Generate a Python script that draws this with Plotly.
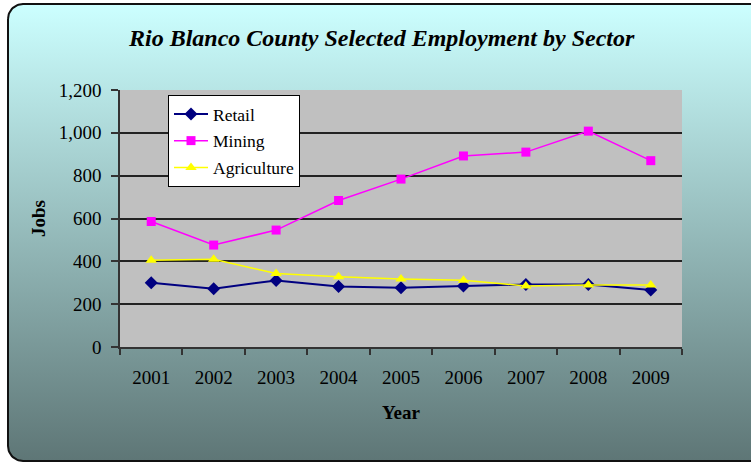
import numpy as np
import plotly.graph_objects as go

# ---- data -------------------------------------------------------------
years = ["2001", "2002", "2003", "2004", "2005", "2006", "2007", "2008", "2009"]
retail = [300, 272, 311, 283, 277, 285, 292, 292, 266]
mining = [586, 476, 546, 684, 784, 892, 910, 1008, 870]
agriculture = [405, 410, 343, 328, 317, 312, 285, 289, 289]

y_ticks = [0, 200, 400, 600, 800, 1000, 1200]

# ---- layout constants (pixels) ------------------------------------------
W, H = 751, 464
PLOT_L, PLOT_R, PLOT_T, PLOT_B = 120, 682, 90, 347
FRAME_L, FRAME_T, FRAME_R, FRAME_B, RADIUS = 8, 4, 775, 461, 15

FONT = "Liberation Serif, Times New Roman, serif"


def rounded_rect(x0, y0, x1, y1, r, n=16):
    """Closed outline of a rounded rectangle in pixel space (y grows downward)."""
    xs, ys = [], []
    corners = [
        (x0 + r, y0 + r, np.pi, 1.5 * np.pi),        # top-left
        (x1 - r, y0 + r, 1.5 * np.pi, 2 * np.pi),    # top-right
        (x1 - r, y1 - r, 0, 0.5 * np.pi),            # bottom-right
        (x0 + r, y1 - r, 0.5 * np.pi, np.pi),        # bottom-left
    ]
    for cx, cy, a0, a1 in corners:
        t = np.linspace(a0, a1, n)
        xs.extend(cx + r * np.cos(t))
        ys.extend(cy + r * np.sin(t))
    xs.append(xs[0])
    ys.append(ys[0])
    return xs, ys


fig = go.Figure()

# Chart-area backdrop: rounded frame with a vertical cyan-to-slate gradient
fx, fy = rounded_rect(FRAME_L, FRAME_T, FRAME_R, FRAME_B, RADIUS)
fig.add_trace(go.Scatter(
    x=fx, y=fy, mode="lines", fill="toself",
    fillgradient=dict(type="vertical", start=FRAME_T, stop=FRAME_B,
                      colorscale=[[0, "#CCFFFF"], [1, "#5E7676"]]),
    line=dict(color="#111111", width=2),
    hoverinfo="skip", showlegend=False, xaxis="x", yaxis="y",
))

# Plot-area fill
fig.add_trace(go.Scatter(
    x=[PLOT_L, PLOT_R, PLOT_R, PLOT_L, PLOT_L],
    y=[PLOT_T, PLOT_T, PLOT_B, PLOT_B, PLOT_T],
    mode="lines", fill="toself", fillcolor="#C0C0C0",
    line=dict(width=0, color="#C0C0C0"),
    hoverinfo="skip", showlegend=False, xaxis="x", yaxis="y",
))

# ---- series ---------------------------------------------------------------
series = [
    ("Retail", retail, "#000080", "diamond", 10, 2),
    ("Mining", mining, "#FF00FF", "square", 9, 1.5),
    ("Agriculture", agriculture, "#FFFF00", "triangle-up", 10, 1.5),
]
for name, vals, color, symbol, msize, lw in series:
    fig.add_trace(go.Scatter(
        x=years, y=vals, name=name, legendgroup=name,
        mode="lines+markers",
        line=dict(color=color, width=lw),
        marker=dict(symbol=symbol, size=msize, color=color,
                    line=dict(width=0)),
        xaxis="x2", yaxis="y2",
    ))

fig.update_layout(
    template="none",
    width=W, height=H,
    margin=dict(l=0, r=0, t=0, b=0, pad=0, autoexpand=False),
    paper_bgcolor="white",
    plot_bgcolor="rgba(0,0,0,0)",
    font=dict(family=FONT, color="black", size=19),
    showlegend=True,
    # full-page pixel axes for the backdrop
    xaxis=dict(domain=[0, 1], range=[0, W], visible=False, fixedrange=True,
               automargin=False),
    yaxis=dict(domain=[0, 1], range=[H, 0], visible=False, fixedrange=True,
               automargin=False),
    # data axes
    xaxis2=dict(
        domain=[PLOT_L / W, PLOT_R / W], anchor="y2", automargin=False,
        type="category", categoryorder="array", categoryarray=years,
        range=[-0.5, len(years) - 0.5],
        tickson="boundaries", ticks="outside", ticklen=6, tickwidth=1.5,
        tickcolor="#333333", showline=True, linecolor="#333333", linewidth=1.5,
        showgrid=False, zeroline=False, ticklabelstandoff=12,
        tickfont=dict(size=19, family=FONT),
        title=dict(text="<b>Year</b>", font=dict(size=19, family=FONT), standoff=19),
    ),
    yaxis2=dict(
        domain=[1 - PLOT_B / H, 1 - PLOT_T / H], anchor="x2", automargin=False,
        range=[0, 1200], tickvals=y_ticks, tickformat=",",
        ticks="outside", ticklen=7, tickwidth=1.5, tickcolor="#333333",
        showline=True, linecolor="#333333", linewidth=1.5,
        showgrid=True, gridcolor="#222222", gridwidth=1.5,
        zeroline=False, ticklabelstandoff=6,
        tickfont=dict(size=19, family=FONT),
        title=dict(text="<b>Jobs</b>", font=dict(size=19, family=FONT), standoff=8),
    ),
    legend=dict(
        x=168 / W, y=1 - 95 / H, xanchor="left", yanchor="top",
        bgcolor="white", bordercolor="black", borderwidth=1,
        font=dict(size=17.5, family=FONT), tracegroupgap=1, itemwidth=34,
        itemclick=False, itemdoubleclick=False,
    ),
    annotations=[dict(
        text="<b><i>Rio Blanco County Selected Employment by Sector</i></b>",
        xref="paper", yref="paper", x=381.5 / W, y=1 - 38 / H,
        xanchor="center", yanchor="middle", showarrow=False,
        font=dict(size=24, family=FONT, color="black"),
    )],
)

fig.write_html("out.html")
